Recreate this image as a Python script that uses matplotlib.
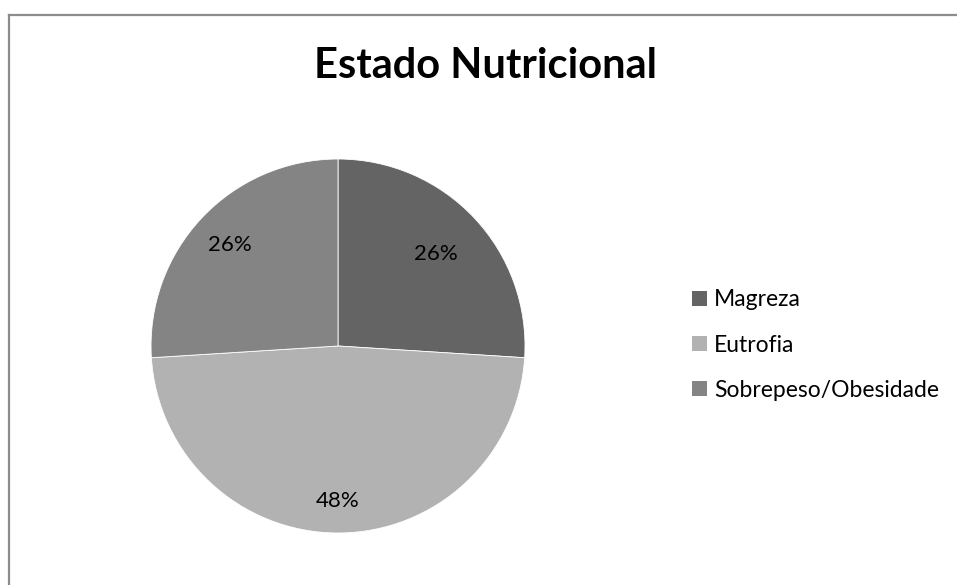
"""
pie chart of nutritional status
"""
import matplotlib
matplotlib.use('Agg')
import matplotlib.pyplot as plt
from matplotlib.lines import Line2D
from matplotlib.patches import Patch
import numpy as np

plt.rcParams['font.family'] = ['Lato', 'DejaVu Sans']

# data
categories = ['Magreza', 'Eutrofia', 'Sobrepeso/Obesidade']
values = [26, 48, 26]
colours = ['#646464', '#b2b2b2', '#848484']
labelDist = [0.72, 0.83, 0.79]

fig = plt.figure(figsize=(9.57, 5.85), dpi=100)

# chart border
fig.add_artist(Line2D([8.5/957, 1.0], [1-14.5/585, 1-14.5/585], color='#8c8c8c', lw=1.6))
fig.add_artist(Line2D([8.5/957, 8.5/957], [0.0, 1-14.5/585], color='#8c8c8c', lw=1.6))

ax = fig.add_axes([0.1578, 0.0889, 0.3908, 0.6393])

wedges, _ = ax.pie(values, colors=colours, startangle=90, counterclock=False,
                   wedgeprops=dict(edgecolor='white', linewidth=0.6))

# percentage labels, placed along the mid-angle of each wedge
tot = float(sum(values))
for w, v, d in zip(wedges, values, labelDist):
    ang = np.deg2rad((w.theta1 + w.theta2) / 2.)
    ax.text(d*np.cos(ang), d*np.sin(ang), '%d%%' % round(100*v/tot),
            ha='center', va='center', fontsize=16, color='black')

ax.set_xlim(-1, 1)
ax.set_ylim(-1, 1)
ax.set_aspect('equal')

fig.text(486/957, 1-66/585, 'Estado Nutricional', ha='center', va='center',
         fontsize=30, fontweight='bold')

handles = [Patch(facecolor=c, edgecolor='none') for c in colours]
fig.legend(handles, categories, loc='center left', bbox_to_anchor=(676/957, 1-345/585),
           frameon=False, fontsize=16.5, handlelength=0.65, handleheight=0.65,
           handletextpad=0.3, labelspacing=1.05, borderpad=0.2)

plt.savefig('out.png', dpi=100)
